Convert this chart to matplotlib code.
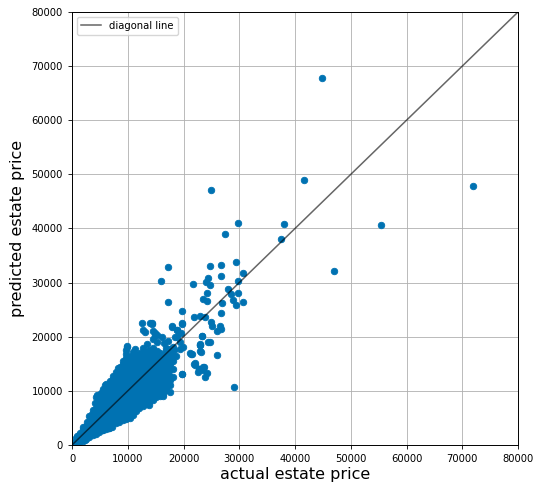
import matplotlib
matplotlib.use('Agg')
import matplotlib.pyplot as plt

# valores leidos del grafico original (precio real vs precio predicho)
# nube densa, por columnas
dense_actual = [
    250, 420, 150,
    800, 880, 720, 950,
    1300, 1380, 1220, 1420,
    1900, 1980, 1830, 1920, 2010,
    2500, 2580, 2430, 2520, 2610,
    3100, 3170, 3040, 3120, 3210, 3020,
    3700, 3780, 3640, 3720, 3810, 3660, 3760,
    4300, 4370, 4240, 4320, 4410, 4250, 4360, 4180, 4290,
    4900, 4960, 4840, 4920, 5010, 4860, 4950, 4880, 4990, 5030,
    5500, 5570, 5440, 5520, 5600, 5460, 5540, 5480, 5580, 5430, 5510,
    6100, 6170, 6040, 6120, 6210, 6060, 6140, 6080, 6190, 6030, 6110, 6160,
    6700, 6770, 6640, 6720, 6810, 6660, 6740, 6680, 6790, 6630, 6710, 6760,
    7200, 7370, 7240, 7320, 7410, 7260, 7340, 7280, 7390, 7230, 7310, 7360, 7290,
    7900, 7970, 7840, 7920, 8010, 7860, 7940, 7880, 7990, 7830, 7910, 7960, 7890,
    8500, 8570, 8440, 8520, 8610, 8460, 8540, 8480, 8590, 8430, 8510, 8560, 8490, 8530,
    9100, 9170, 9040, 9120, 9210, 9060, 9140, 9080, 9190, 9030, 9110, 9160, 9090, 9130, 9070,
    9700, 9770, 9640, 9720, 9810, 9660, 9740, 9680, 9790, 9630, 9710, 9760, 9690, 9730, 9670, 9750, 9700, 9780,
    10300, 10370, 10240, 10320, 10410, 10260, 10340, 10280, 10390, 10230, 10310, 10360, 10290, 10330, 10270,
    10900, 10970, 10840, 10920, 11010, 10860, 10940, 10880, 10990, 10830, 10910, 10960, 10890, 10930, 10870,
    11500, 11570, 11440, 11520, 11610, 11460, 11540, 11480, 11590, 11430, 11510, 11560, 11490, 11530,
    12100, 12170, 12040, 12120, 12210, 12060, 12140, 12080, 12190, 12030, 12110, 12160, 12090, 12130,
    12700, 12770, 12640, 12720, 12810, 12660, 12740, 12680, 12790, 12630, 12710, 12760, 12690,
    13300, 13370, 13240, 13320, 13410, 13260, 13340, 13280, 13390, 13230, 13310, 13360, 13290,
    13900, 13970, 13840, 13920, 14010, 13860, 13940, 13880, 13990, 13830, 13910, 13960, 13890,
    14500, 14570, 14440, 14520, 14610, 14460, 14540, 14480, 14590, 14430, 14510, 14560, 14490,
    15100, 15170, 15040, 15120, 15210, 15060, 15140, 15080, 15190, 15030, 15110, 15160,
    15700, 15770, 15640, 15720, 15810, 15660, 15740, 15680, 15790, 15630, 15710,
    16300, 16370, 16240, 16320, 16410, 16260, 16340, 16280, 16390, 16230,
    16900, 16970, 16840, 16920, 17010, 16860, 16940, 16880, 16990, 16830,
    17500, 17600, 17450, 17550, 17650, 17480, 17580, 17520,
    18100, 18200, 18050, 18150, 18250,
]
dense_predicted = [
    100, 450, 300,
    250, 800, 1300, 1600,
    500, 1100, 1800, 2300,
    800, 1500, 2300, 3000, 3400,
    1100, 1900, 2700, 3500, 4200,
    1500, 2300, 3100, 3900, 4700, 5300,
    1800, 2600, 3400, 4200, 5000, 5800, 6500,
    2100, 2900, 3700, 4500, 5300, 6100, 6900, 7700, 8800,
    2400, 3200, 4000, 4800, 5600, 6400, 7200, 8000, 8700, 9400,
    2700, 3400, 4200, 5000, 5800, 6600, 7400, 8200, 9000, 9800, 10400,
    2900, 3600, 4400, 5200, 6000, 6800, 7600, 8400, 9200, 10000, 10800, 11300,
    3100, 3900, 4700, 5500, 6300, 7100, 7900, 8700, 9500, 10300, 11100, 11900,
    3400, 4200, 5000, 5800, 6600, 7400, 8200, 9000, 9800, 10600, 11400, 12200, 12700,
    4000, 4800, 5600, 6400, 7200, 8000, 8800, 9600, 10400, 11200, 12000, 12800, 13400,
    4300, 5100, 5900, 6700, 7500, 8300, 9100, 9900, 10700, 11500, 12300, 13100, 13900, 14500,
    4600, 5400, 6200, 7000, 7800, 8600, 9400, 10200, 11000, 11800, 12600, 13400, 14200, 15000, 15600,
    4800, 5600, 6400, 7200, 8000, 8800, 9600, 10400, 11200, 12000, 12800, 13600, 14400, 15200, 16000, 16800, 17600, 18200,
    5100, 5900, 6700, 7500, 8300, 9100, 9900, 10700, 11500, 12300, 13100, 13900, 14700, 15500, 16200,
    5600, 6400, 7200, 8000, 8800, 9600, 10400, 11200, 12000, 12800, 13600, 14400, 15200, 16000, 16600,
    6300, 7100, 7900, 8700, 9500, 10300, 11100, 11900, 12700, 13500, 14300, 15100, 15900, 16700,
    6800, 7600, 8400, 9200, 10000, 10800, 11600, 12400, 13200, 14000, 14800, 15600, 16400, 17000,
    7200, 8000, 8800, 9600, 10400, 11200, 12000, 12800, 13600, 14400, 15200, 16000, 16800,
    7600, 8400, 9200, 10000, 10800, 11600, 12400, 13200, 14000, 14800, 15600, 16400, 17200,
    8000, 8800, 9600, 10400, 11200, 12000, 12800, 13600, 14400, 15200, 16000, 16800, 17600,
    8400, 9200, 10000, 10800, 11600, 12400, 13200, 14000, 14800, 15600, 16400, 17200, 18000,
    8800, 9600, 10400, 11200, 12000, 12800, 13600, 14400, 15200, 16000, 16800, 17400,
    9100, 9900, 10700, 11500, 12300, 13100, 13900, 14700, 15500, 16300, 17000,
    9500, 10300, 11100, 11900, 12700, 13500, 14300, 15100, 15900, 16700,
    10100, 10900, 11700, 12500, 13300, 14100, 14900, 15700, 16500, 17300,
    11000, 12000, 13000, 14000, 15000, 16000, 17000, 17700,
    12500, 14000, 15500, 16500, 17500,
]

# bordes irregulares de la nube
edge_actual = [4490, 5980, 7475, 2390, 3590, 5380, 6580, 10470, 16400, 17600, 13750, 8200, 11000]
edge_predicted = [9240, 11090, 12620, 920, 2160, 2770, 3080, 4930, 9000, 9700, 7300, 14300, 17200]

# puntos sueltos encima de la nube
upper_actual = [12500, 14300, 12800, 14590, 13100, 14890, 15190, 16090, 15190, 17880,
                19680, 18780, 18780, 19370, 19970, 18170, 18410, 19610, 9810, 12800,
                13500, 16500, 17200, 13980, 14460, 11300, 16800, 17800, 18700, 19380, 19790]
upper_predicted = [22480, 22360, 21250, 21060, 20940, 20320, 20320, 20010, 19090, 21860,
                   22480, 21250, 20010, 19090, 18160, 18160, 20010, 20630, 18160, 17860,
                   18700, 18800, 19200, 22570, 19500, 17800, 17900, 17300, 16500, 17650, 13120]

# zona dispersa entre 15000 y 31000
sparse_actual = [17274, 24807, 26726, 29417, 30730, 26726, 24448, 23970, 24807, 16018,
                 21763, 29776, 28040, 24270, 29835, 28463, 23551, 24215, 28937, 29417,
                 30730, 26906, 17274, 19785, 26726, 21823, 22960, 23856, 24933, 25166,
                 26547, 26786, 26068, 14350, 14888, 17883, 18780, 19731, 23372, 23013,
                 22960, 24807, 21400, 26009, 21937, 22840, 23731, 23856, 19785, 29000,
                 21170, 22960, 23560, 22070, 22660, 21460, 23060, 22940, 22040, 23540,
                 22760, 24270, 24450, 23270]
sparse_predicted = [32831, 33016, 33201, 33755, 31723, 31169, 30855, 30170, 29616, 30300,
                    29682, 30300, 28822, 28022, 28022, 27898, 26975, 26666, 26790, 25811,
                    26365, 26180, 26365, 24702, 24333, 23595, 23834, 23595, 22669, 22042,
                    21982, 21429, 21115, 22484, 20637, 21982, 21189, 22355, 20139, 18661,
                    17367, 18975, 16813, 16628, 14910, 14041, 14411, 12563, 13118, 10700,
                    16940, 18470, 14470, 15090, 13540, 16810, 17240, 18470, 14780, 13860,
                    14040, 13250, 19090, 20140]

# valores atipicos
outlier_actual = [44800, 72000, 41600, 24900, 29800, 38000, 55400, 27400, 37500, 47000]
outlier_predicted = [67800, 47900, 49000, 47100, 41000, 40800, 40600, 39000, 38000, 32100]

actual = dense_actual + edge_actual + upper_actual + sparse_actual + outlier_actual
predicted = dense_predicted + edge_predicted + upper_predicted + sparse_predicted + outlier_predicted

lims = [0, 80000]
ticks = list(range(0, 80001, 10000))

fig = plt.figure(figsize=(5.4, 4.86), dpi=100)
ax = fig.add_axes([72 / 540, 41 / 486, 446 / 540, 433 / 486])

ax.scatter(actual, predicted, s=22, color='#0072B2', linewidths=0.6, zorder=2)
ax.plot(lims, lims, color='black', alpha=0.6, lw=1.1, label='diagonal line', zorder=3)

ax.set_xlim(lims)
ax.set_ylim(lims)
ax.set_xticks(ticks)
ax.set_yticks(ticks)
ax.tick_params(labelsize=7.2, length=3, width=0.6)
ax.grid(True, color='#b0b0b0', lw=0.6)
ax.set_axisbelow(True)
for s in ax.spines.values():
    s.set_linewidth(0.7)
    s.set_color('black')

ax.set_xlabel('actual estate price', fontsize=11.5, labelpad=2)
ax.set_ylabel('predicted estate price', fontsize=11.5, labelpad=5)
ax.legend(loc='upper left', fontsize=7.2)

plt.savefig('out.png', dpi=100)
